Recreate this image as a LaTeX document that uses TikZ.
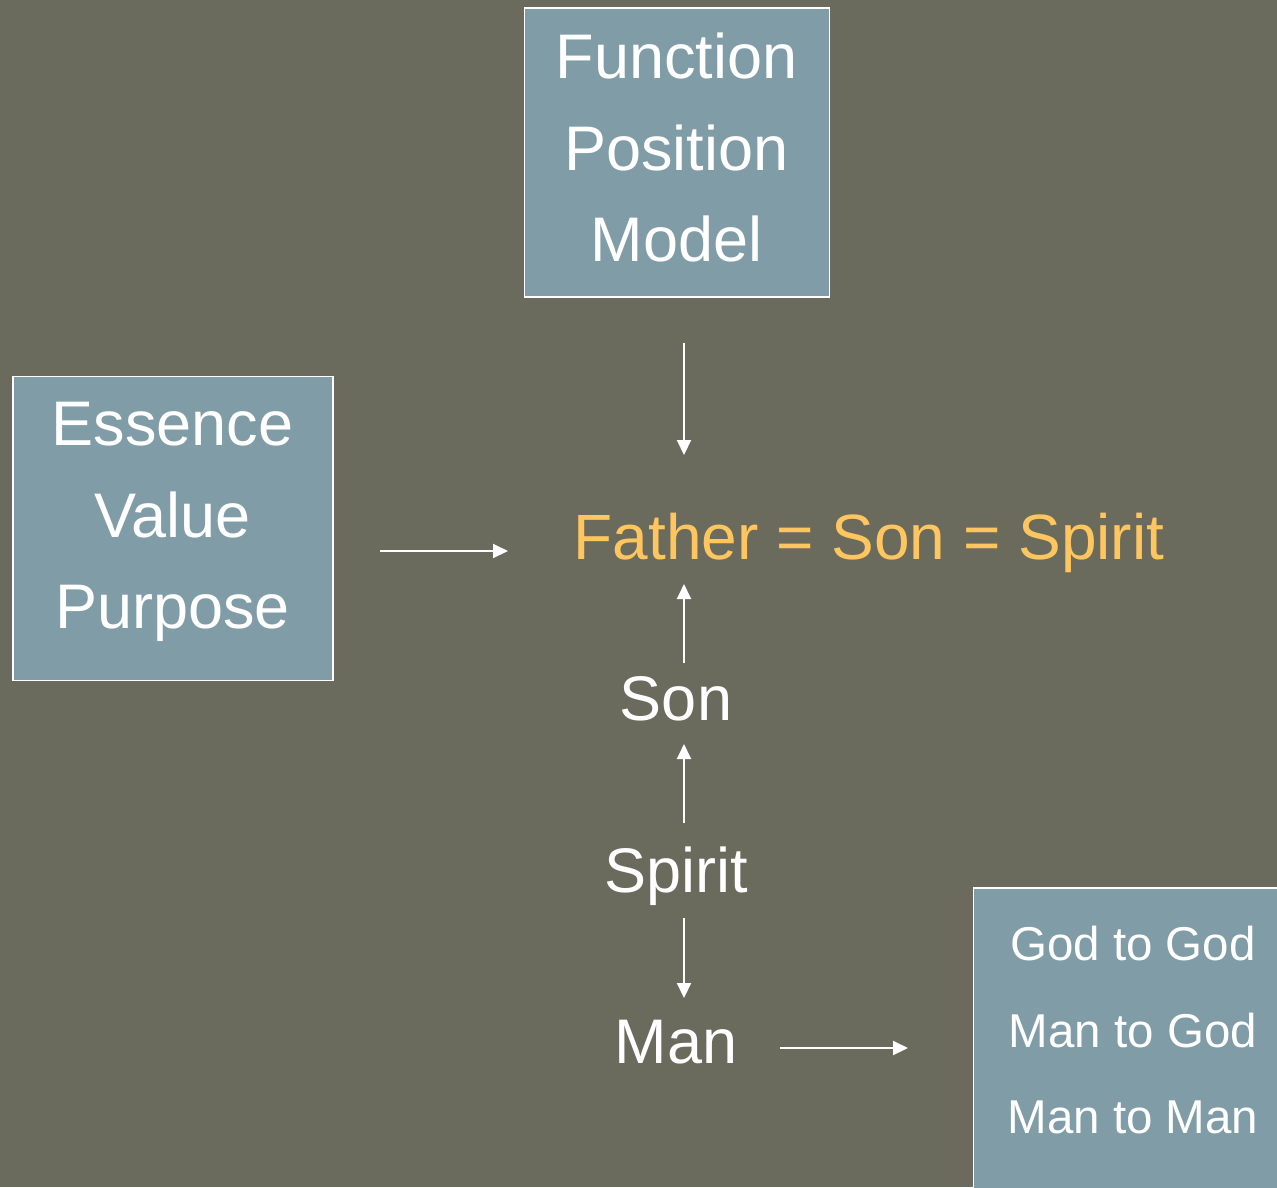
\documentclass[tikz,border=0pt]{standalone}
\usepackage{fontspec}
\setmainfont{Liberation Sans}
\usetikzlibrary{arrows.meta}
\definecolor{bgcol}{HTML}{6A6B5D}
\definecolor{boxcol}{HTML}{809DA7}
\definecolor{orangecol}{HTML}{FFC660}
\tikzset{
  box/.style={draw=white, line width=1.6pt, fill=boxcol, inner sep=0pt, anchor=north west},
  bigtext/.style={text=white, inner sep=0pt, font=\fontsize{63}{91.5}\selectfont, align=center},
  smalltext/.style={text=white, inner sep=0pt, font=\fontsize{47.5}{86.5}\selectfont, align=center},
  conn/.style={draw=white, line width=2pt, -{Triangle[length=15pt,width=14pt]}}
}
\begin{document}
\begin{tikzpicture}[x=1pt,y=-1pt]
\useasboundingbox (0,0) rectangle (1277,1187);
\fill[bgcol] (0,0) rectangle (1277,1187);

% boxes
\node[box, minimum width=305pt, minimum height=289pt] (topbox) at (523.5,7) {};
\node[box, minimum width=320pt, minimum height=304pt] (leftbox) at (12,375.5) {};
\node[box, minimum width=330pt, minimum height=330pt] (rightbox) at (972.5,887) {};

% box texts
\node[bigtext, anchor=north] (toptext) at (676.5,33) {Function\\Position\\Model};
\node[bigtext, anchor=north] (lefttext) at (172.5,402) {Essence\\Value\\Purpose};
\node[smalltext, anchor=north] (righttext) at (1133,926) {God to God\\Man to God\\Man to Man};

% central texts
\node[text=orangecol, inner sep=0pt, font=\fontsize{64}{70}\selectfont, anchor=base] (father) at (869,559) {Father = Son = Spirit};
\node[bigtext, anchor=base] (son) at (676,720) {Son};
\node[bigtext, anchor=base] (spirit) at (676,892) {Spirit};
\node[bigtext, anchor=base] (man) at (676,1063) {Man};

% connector end points
\coordinate (topout) at (684,343);
\coordinate (fatherin1) at (684,455);
\coordinate (leftout) at (380,551);
\coordinate (fatherin2) at (508,551);
\coordinate (sonout) at (684,663);
\coordinate (fatherin3) at (684,584);
\coordinate (spiritout1) at (684,823);
\coordinate (sonin) at (684,744);
\coordinate (spiritout2) at (684,918);
\coordinate (manin) at (684,998);
\coordinate (manout) at (780,1048);
\coordinate (rightin) at (908,1048);

\draw[conn] (topout) -- (fatherin1);
\draw[conn] (leftout) -- (fatherin2);
\draw[conn] (sonout) -- (fatherin3);
\draw[conn] (spiritout1) -- (sonin);
\draw[conn] (spiritout2) -- (manin);
\draw[conn] (manout) -- (rightin);
\end{tikzpicture}
\end{document}
